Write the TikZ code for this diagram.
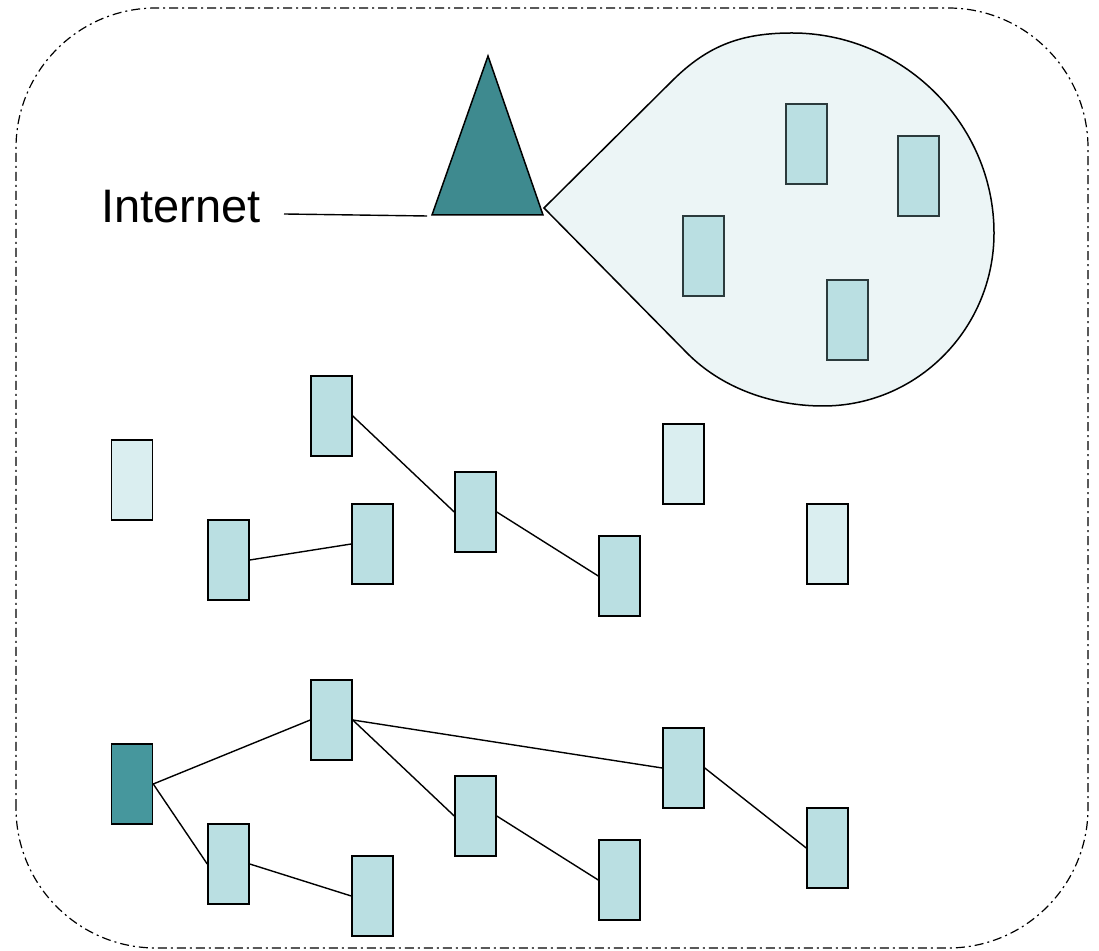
\documentclass[tikz,border=0pt]{standalone}
\usepackage{fontspec}
\setmainfont{Liberation Sans}
\definecolor{teal1}{HTML}{3E8A8F}
\definecolor{teal2}{HTML}{46979D}
\definecolor{pc}{HTML}{BADFE2}
\definecolor{pclight}{HTML}{DAEEF0}
\definecolor{bubble}{HTML}{ECF5F6}
\definecolor{bord}{HTML}{2B3A3C}
\tikzset{
  pcbox/.style={draw=black, line width=1.5pt, fill=pc, minimum width=41pt, minimum height=80pt, inner sep=0pt},
  pcin/.style={pcbox, draw=bord},
  pcoff/.style={pcbox, fill=pclight},
  pcroot/.style={pcbox, fill=teal2},
  link/.style={line width=1.4pt},
}
\begin{document}
\begin{tikzpicture}[x=1pt,y=1pt]
\useasboundingbox (0,0) rectangle (1099,950);
% outer region
\draw[line width=1.2pt, dash pattern=on 9pt off 4pt on 2pt off 4pt, rounded corners=140pt]
  (16,2) rectangle (1088,942);
% bubble
\coordinate (tip) at (544,742);
\coordinate (bu) at (673,870);
\coordinate (bt) at (792,917);
\coordinate (brt) at (994,717);
\coordinate (bb) at (823,544);
\coordinate (bl2) at (687,597);
\draw[line width=1.5pt, fill=bubble] (tip) -- (bu)
  .. controls (708.5,905) and (742,917) .. (bt)
  .. controls (902,917) and (994,827) .. (brt)
  .. controls (994,622) and (918,544) .. (bb)
  .. controls (773,544) and (722,561.5) .. (bl2)
  -- cycle;
% triangle
\coordinate (apex) at (488,894);
\coordinate (bl) at (432,735);
\coordinate (br) at (543,735);
\draw[line width=1.5pt, fill=teal1, line join=miter] (apex) -- (br) -- (bl) -- cycle;
% label
\node[anchor=base, font=\fontsize{47}{50}\selectfont, inner sep=0pt] (inet) at (181,727) {Internet};
\coordinate (inetstart) at (284,736);
\coordinate (inetend) at (427,734);
\draw[link] (inetstart) -- (inetend);
% bubble machines
\node[pcin] (b1) at (806.5,806) {};
\node[pcin] (b2) at (918.5,774) {};
\node[pcin] (b3) at (703.5,694) {};
\node[pcin] (b4) at (847.5,630) {};
% middle group
\node[pcoff] (A) at (132,470) {};
\node[pcbox] (B) at (331.5,534) {};
\node[pcbox] (C) at (228.5,390) {};
\node[pcbox] (D) at (372.5,406) {};
\node[pcbox] (E) at (475.5,438) {};
\node[pcbox] (F) at (619.5,374) {};
\node[pcoff] (G) at (683.5,486) {};
\node[pcoff] (H) at (827.5,406) {};
\draw[link] (B.east) -- (E.west);
\draw[link] (E.east) -- (F.west);
\draw[link] (C.east) -- (D.west);
% bottom group
\node[pcroot] (R) at (132,166) {};
\node[pcbox] (P1) at (331.5,230) {};
\node[pcbox] (P2) at (228.5,86) {};
\node[pcbox] (P3) at (372.5,54) {};
\node[pcbox] (P4) at (475.5,134) {};
\node[pcbox] (P5) at (619.5,70) {};
\node[pcbox] (P6) at (683.5,182) {};
\node[pcbox] (P7) at (827.5,102) {};
\draw[link] (R.east) -- (P1.west);
\draw[link] (R.east) -- (P2.west);
\draw[link] (P2.east) -- (P3.west);
\draw[link] (P1.east) -- (P6.west);
\draw[link] (P1.east) -- (P4.west);
\draw[link] (P4.east) -- (P5.west);
\draw[link] (P6.east) -- (P7.west);
\end{tikzpicture}
\end{document}
